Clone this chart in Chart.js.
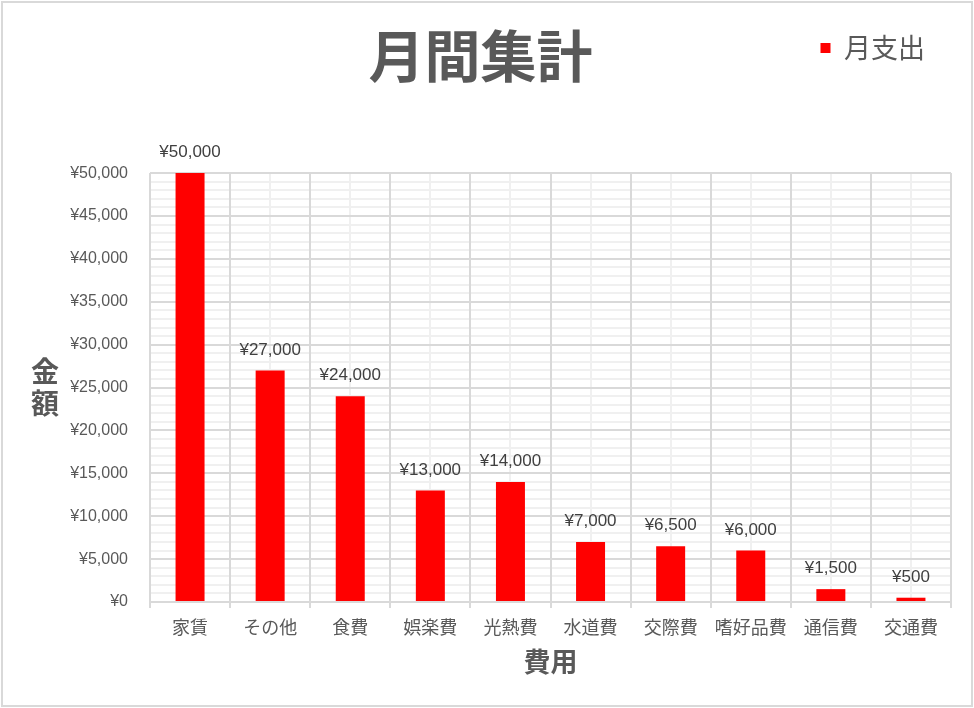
<!DOCTYPE html>
<html>
<head>
<meta charset="utf-8">
<script src="https://cdn.jsdelivr.net/npm/chart.js@4.4.1/dist/chart.umd.min.js"></script>
<style>
html,body{margin:0;padding:0;background:#fff;}
#myChart{display:block;outline:2px solid #d9d9d9;outline-offset:-3px;}
</style>
</head>
<body>
<canvas id="myChart" width="974" height="708"></canvas>
<script>
// data
var categories = ['家賃', 'その他', '食費', '娯楽費', '光熱費', '水道費', '交際費', '嗜好品費', '通信費', '交通費'];
var spending = [50000, 27000, 24000, 13000, 14000, 7000, 6500, 6000, 1500, 500];
var seriesName = '月支出';
var chartTitle = '月間集計';
var xTitle = '費用';
var yTitle = ['金', '額'];
var yMin = 0, yMax = 50000, yMajorStep = 5000, yMinorStep = 1000;

var JP = '"Noto Sans CJK JP", sans-serif';
var LAT = '"Liberation Sans", Arial, sans-serif';
var GRID = '#d9d9d9', MINOR = '#f0f0f0', TEXT = '#595959';

function yen(v){
    return '¥' + v.toLocaleString('en-US');
}

// value labels above each bar
var valueLabels = {
    id: 'valueLabels',
    afterDatasetsDraw: function(chart){
        var ctx = chart.ctx;
        var meta = chart.getDatasetMeta(0);
        ctx.save();
        ctx.font = '17px ' + LAT;
        ctx.fillStyle = '#404040';
        ctx.textAlign = 'center';
        ctx.textBaseline = 'bottom';
        meta.data.forEach(function(bar, i){
            ctx.fillText(yen(spending[i]), bar.x, bar.y - 12);
        });
        ctx.restore();
    }
};

// y axis title, one character under the other
var stackedYTitle = {
    id: 'stackedYTitle',
    afterDraw: function(chart){
        var ctx = chart.ctx;
        var area = chart.chartArea;
        var mid = (area.top + area.bottom) / 2;
        ctx.save();
        ctx.font = 'bold 28px ' + JP;
        ctx.fillStyle = TEXT;
        ctx.textAlign = 'center';
        ctx.textBaseline = 'middle';
        ctx.fillText(yTitle[0], area.left - 105, mid - 16);
        ctx.fillText(yTitle[1], area.left - 105, mid + 16);
        ctx.restore();
    }
};

var data = {
    labels: categories,
    datasets: [{
        label: seriesName,
        data: spending,
        backgroundColor: '#ff0000',
        borderWidth: 0,
        categoryPercentage: 1,
        barPercentage: 0.362
    }]
};

var config = {
    type: 'bar',
    data: data,
    plugins: [valueLabels, stackedYTitle],
    options: {
        responsive: false,
        animation: false,
        layout: {padding: {left: 10, right: 23, top: 8.5, bottom: 0}},
        plugins: {
            legend: {
                position: 'top',
                align: 'end',
                weight: 3000,
                labels: {
                    boxWidth: 10,
                    boxHeight: 10,
                    padding: 26,
                    color: TEXT,
                    font: {family: JP, size: 27}
                }
            },
            title: {
                display: true,
                text: chartTitle,
                color: TEXT,
                font: {family: JP, size: 56, weight: 'bold'},
                padding: {top: -49, bottom: 83.4}
            },
            tooltip: {enabled: false}
        },
        scales: {
            yMinor: {
                position: 'left',
                min: yMin,
                max: yMax,
                ticks: {display: false, stepSize: yMinorStep},
                grid: {
                    drawTicks: false,
                    lineWidth: 2,
                    color: function(c){ return c.tick && c.tick.value % yMajorStep === 0 ? 'rgba(0,0,0,0)' : MINOR; }
                },
                border: {display: false},
                afterFit: function(s){ s.width = 0; }
            },
            xMinor: {
                position: 'bottom',
                offset: true,
                ticks: {display: false},
                grid: {offset: false, drawTicks: false, lineWidth: 2, color: MINOR},
                border: {display: false},
                afterFit: function(s){ s.height = 0; }
            },
            y: {
                position: 'left',
                min: yMin,
                max: yMax,
                ticks: {
                    stepSize: yMajorStep,
                    padding: 22,
                    color: TEXT,
                    font: {family: LAT, size: 16},
                    callback: function(v){ return yen(v); }
                },
                grid: {drawTicks: false, lineWidth: 2, color: GRID},
                border: {display: false},
                afterFit: function(s){ s.width = 140; }
            },
            x: {
                position: 'bottom',
                offset: true,
                ticks: {
                    padding: 8,
                    color: TEXT,
                    font: {family: JP, size: 18}
                },
                grid: {offset: true, tickLength: 6, lineWidth: 2, color: GRID},
                border: {display: true, width: 2, color: GRID},
                title: {
                    display: true,
                    text: xTitle,
                    color: TEXT,
                    font: {family: JP, size: 27, weight: 'bold'},
                    padding: {top: 0, bottom: 30}
                },
                afterFit: function(s){ s.height = 106; }
            }
        }
    }
};

var myChart = new Chart(document.getElementById('myChart'), config);
</script>
</body>
</html>
